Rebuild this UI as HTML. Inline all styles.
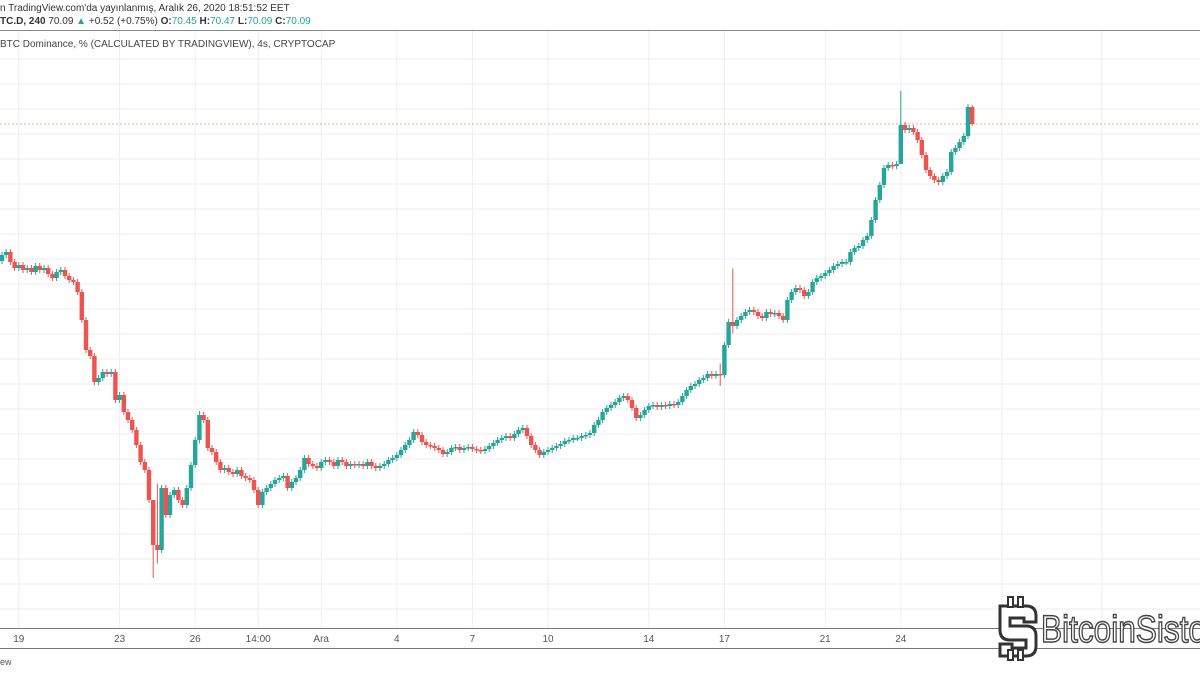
<!DOCTYPE html>
<html><head><meta charset="utf-8"><style>
html,body{margin:0;padding:0;background:#fff;width:1200px;height:675px;overflow:hidden;font-family:"Liberation Sans",sans-serif;}
svg{display:block}
</style></head><body>
<svg id="chart" width="1200" height="675" viewBox="0 0 1200 675">
<g id="grid"></g>
<line x1="0" y1="124" x2="1200" y2="124" stroke="#f4a0a0" stroke-width="1" stroke-dasharray="2,2"/>
<g id="candles"></g>
<rect x="0" y="0" width="1200" height="30" fill="#fff"/>
<text x="0" y="11" font-size="10" fill="#333">n TradingView.com'da yayınlanmış, Aralık 26, 2020 18:51:52 EET</text>
<text x="0" y="24" font-size="10" fill="#333"><tspan font-weight="bold">TC.D, 240</tspan> 70.09 <tspan fill="#26a69a">▲</tspan> +0.52 (+0.75%) <tspan font-weight="bold">O:</tspan><tspan fill="#26a69a">70.45</tspan> <tspan font-weight="bold">H:</tspan><tspan fill="#26a69a">70.47</tspan> <tspan font-weight="bold">L:</tspan><tspan fill="#26a69a">70.09</tspan> <tspan font-weight="bold">C:</tspan><tspan fill="#26a69a">70.09</tspan></text>
<line x1="0" y1="30.5" x2="1200" y2="30.5" stroke="#888" stroke-width="1"/>
<text x="0" y="47" font-size="10" fill="#444">BTC Dominance, % (CALCULATED BY TRADINGVIEW), 4s, CRYPTOCAP</text>
<rect x="0" y="628" width="1200" height="20" fill="#fff"/>
<line x1="0" y1="628.5" x2="1200" y2="628.5" stroke="#777"/>
<line x1="0" y1="648.5" x2="1200" y2="648.5" stroke="#777"/>
<g id="xlabels"></g>
<text x="0" y="665" font-size="9" fill="#555">ew</text>
<g>
<path d="M1000 606 h26 q10 0 10 10 v6 h-12 v-4 h-14 v8 h16 q10 0 10 10 v10 q0 10 -10 10 h-26 v-12 h12 v4 h14 v-8 h-16 q-10 0 -10 -10 v-12 q0 -10 0 -12z" fill="#fff" stroke="#333" stroke-width="3"/>
<rect x="1008" y="597" width="5" height="10" fill="#fff" stroke="#333" stroke-width="2"/>
<rect x="1018" y="597" width="5" height="10" fill="#fff" stroke="#333" stroke-width="2"/>
<rect x="1008" y="650" width="5" height="10" fill="#fff" stroke="#333" stroke-width="2"/>
<rect x="1018" y="650" width="5" height="10" fill="#fff" stroke="#333" stroke-width="2"/>
<text x="1041" y="642" font-size="38" font-family="'Liberation Sans Narrow','Liberation Sans',sans-serif" fill="#fff" stroke="#444" stroke-width="1.5" textLength="165" lengthAdjust="spacingAndGlyphs">BitcoinSisto</text>
</g>
</svg>
<script>
const closes=[67.47,67.53,67.33,67.21,67.27,67.17,67.21,67.13,67.25,67.17,
67.21,67.09,67.01,67.13,67.17,67.05,66.97,66.93,66.73,66.17,
65.57,65.45,64.93,65.01,65.13,65.09,65.13,64.57,64.67,64.33,
64.17,63.97,63.67,63.33,63.17,62.57,61.67,61.57,62.81,62.27,
62.67,62.77,62.57,62.47,62.81,63.27,63.77,64.27,64.17,63.61,
63.53,63.33,63.17,63.21,63.13,63.09,63.17,63.05,63.01,62.97,
62.77,62.47,62.73,62.81,62.89,62.97,63.01,63.05,62.81,62.93,
63.01,63.17,63.41,63.29,63.25,63.21,63.33,63.37,63.33,63.25,
63.37,63.33,63.25,63.29,63.27,63.29,63.25,63.33,63.25,63.21,
63.25,63.29,63.37,63.41,63.47,63.57,63.67,63.77,63.93,63.87,
63.73,63.67,63.65,63.61,63.57,63.49,63.53,63.61,63.63,63.57,
63.61,63.63,63.59,63.57,63.55,63.59,63.65,63.71,63.77,63.81,
63.85,63.81,63.89,63.97,64.01,63.85,63.67,63.57,63.47,63.53,
63.57,63.61,63.65,63.69,63.75,63.77,63.81,63.81,63.85,63.87,
63.91,64.07,64.17,64.33,64.41,64.47,64.53,64.61,64.65,64.57,
64.41,64.21,64.27,64.37,64.45,64.47,64.43,64.47,64.45,64.49,
64.47,64.53,64.65,64.77,64.85,64.89,64.97,65.01,65.09,65.05,
65.09,65.07,65.67,66.13,66.05,66.17,66.25,66.33,66.37,66.33,
66.25,66.21,66.33,66.29,66.31,66.25,66.17,66.57,66.73,66.81,
66.77,66.65,66.73,66.93,67.01,67.05,67.11,67.17,67.25,67.29,
67.33,67.33,67.53,67.61,67.65,67.77,67.85,68.17,68.57,68.87,
69.21,69.27,69.25,69.29,70.07,69.97,70.01,69.93,69.77,69.47,
69.17,69.05,68.97,68.93,69.05,69.13,69.53,69.61,69.73,69.85,
70.43,70.09];
const firstOpen=67.35;
const spikeIdx=[36,37,47,171,174,214,231];
const spikeHigh=[61.9,62.9,64.35,65.3,67.2,70.75,70.47];
const spikeLow=[61.01,61.3,63.7,64.85,65.9,69.6,70.05];
const xLabels=["19","23","26","14:00","Ara","4","7","10","14","17","21","24"];
const xLabelIdx=[4,28,46,61,76,94,112,130,154,172,196,214];
const yMax=72.57, yMin=61.0;

const NS="http://www.w3.org/2000/svg";
const yOf=v=>(yMax-v)*50;
const xOf=i=>2+i*4.2;
function mk(tag,attrs,parent){const e=document.createElementNS(NS,tag);for(const k in attrs)e.setAttribute(k,attrs[k]);parent.appendChild(e);return e;}
const grid=document.getElementById('grid');
for(let v=yMax-0.5*2.36;v>yMin-1;v-=0.5){
  const y=yOf(v);
  if(y>626)break;
  const l=mk('line',{x1:0,x2:1200,y1:y,y2:y,stroke:'#eeeef2','stroke-width':1},grid);
  
  
}
const extraGrid=[xOf(xLabelIdx[11])+101,xOf(xLabelIdx[11])+201];
const gx=xLabelIdx.map(xOf).concat(extraGrid);
gx.forEach(x=>{
  const l=mk('line',{x1:x,x2:x,y1:31,y2:628,stroke:'#eeeef2','stroke-width':1},grid);
  
  
});
const cg=document.getElementById('candles');
closes.forEach((c,i)=>{
  const o=i===0?firstOpen:closes[i-1];
  const up=c>=o;
  const col=up?'#26a69a':'#ef5350';
  const s=spikeIdx.indexOf(i);
  const hi=s>=0?spikeHigh[s]:Math.max(o,c)+0.06;
  const lo=s>=0?spikeLow[s]:Math.min(o,c)-0.06;
  const x=xOf(i);
  const w=mk('line',{x1:x,x2:x,y1:yOf(hi),y2:yOf(lo),stroke:col,'stroke-width':1},cg);
  
  
  const yt=yOf(Math.max(o,c)),yb=yOf(Math.min(o,c));
  const b=mk('rect',{x:x-2.2,y:yt,width:4.4,height:Math.max(1.5,yb-yt),fill:col},cg);
  
  
});
const xl=document.getElementById('xlabels');
xLabels.forEach((t,k)=>{
  const e=mk('text',{x:xOf(xLabelIdx[k]),y:642,'font-size':10,fill:'#555','text-anchor':'middle'},xl);
  e.textContent=t;
  
  
});
</script>
</body></html>
